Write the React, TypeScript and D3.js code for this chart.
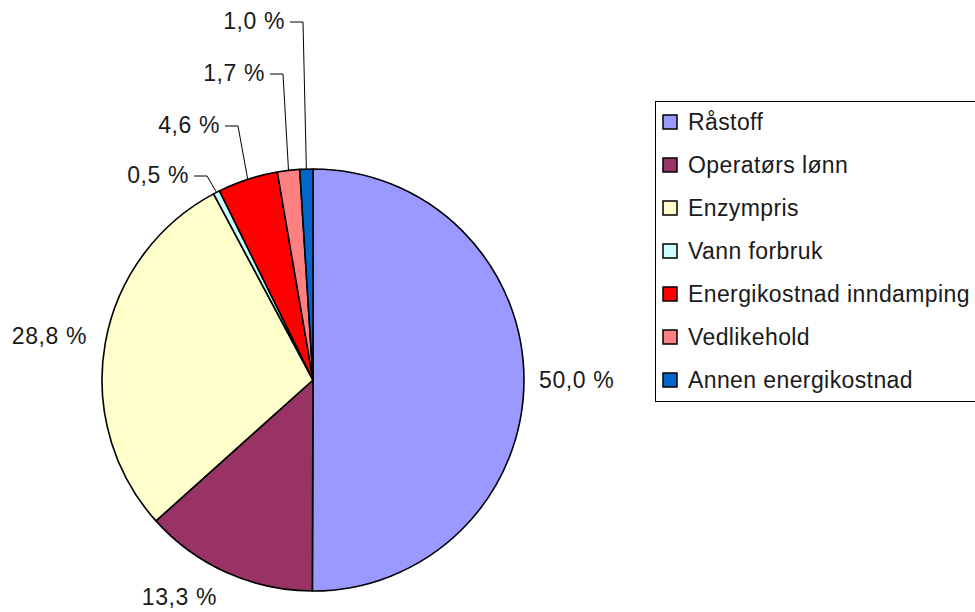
import React from "react";
import * as d3 from "d3";

const categories = [
  "Råstoff",
  "Operatørs lønn",
  "Enzympris",
  "Vann forbruk",
  "Energikostnad inndamping",
  "Vedlikehold",
  "Annen energikostnad",
];
const values = [50.0, 13.3, 28.8, 0.5, 4.6, 1.7, 1.0];
const labels = ["50,0 %", "13,3 %", "28,8 %", "0,5 %", "4,6 %", "1,7 %", "1,0 %"];
const colors = ["#9999FF", "#993366", "#FFFFCC", "#CCFFFF", "#FF0000", "#FF8080", "#0066CC"];

// label layout: [x, baselineY, anchor, leader?]
const labelLayout: [number, number, string, boolean][] = [
  [539, 388, "start", false],
  [217, 605, "end", false],
  [87, 344, "end", false],
  [189, 183, "end", true],
  [220, 133, "end", true],
  [265, 81, "end", true],
  [285, 29, "end", true],
];

const W = 975;
const H = 612;
const cx = 313;
const cy = 380;
const R = 211;
const FONT = "'Liberation Sans', Arial, sans-serif";

export default function App() {
  const pie = d3
    .pie<number>()
    .sort(null)
    .value((d) => d)
    .startAngle(0)
    .endAngle(2 * Math.PI);
  const arcs = pie(values);
  const arc = d3.arc<d3.PieArcDatum<number>>().innerRadius(0).outerRadius(R);
  const rim = d3.arc<d3.PieArcDatum<number>>().innerRadius(R).outerRadius(R);

  const legendX = 655;
  const legendY = 101;
  const rowStart = 122;
  const rowStep = 43;

  return (
    <svg
      width={W}
      height={H}
      style={{ position: "absolute", left: 0, top: 0, background: "#fff" }}
      fontFamily={FONT}
    >
      <g transform={`translate(${cx},${cy})`}>
        {arcs.map((a, i) => (
          <path key={i} d={arc(a) || ""} fill={colors[i]} stroke="#000" strokeWidth={1.6} strokeLinejoin="round" />
        ))}
      </g>
      {arcs.map((a, i) => {
        const [lx, ly, anchor, leader] = labelLayout[i];
        const [px, py] = rim.centroid(a);
        const ax = cx + px;
        const ay = cy + py;
        const lineY = ly - 7;
        const textEnd = lx;
        const elbowX = textEnd + 18;
        return (
          <g key={i}>
            {leader && (
              <polyline
                points={`${ax},${ay} ${elbowX},${lineY} ${textEnd + 5},${lineY}`}
                fill="none"
                stroke="#000"
                strokeWidth={1}
              />
            )}
            <text x={lx} y={ly} textAnchor={anchor} fontSize={23} letterSpacing={0.6} fill="#1a1a1a">
              {labels[i]}
            </text>
          </g>
        );
      })}
      <rect x={legendX + 0.5} y={legendY + 0.5} width={340} height={300} fill="#fff" stroke="#000" strokeWidth={1} />
      {categories.map((c, i) => {
        const y = rowStart + i * rowStep;
        return (
          <g key={c}>
            <rect x={663} y={y - 7} width={14} height={14} fill={colors[i]} stroke="#000" strokeWidth={1.5} />
            <text x={688} y={y + 8} fontSize={23} letterSpacing={0.4} fill="#1a1a1a">
              {c}
            </text>
          </g>
        );
      })}
    </svg>
  );
}
